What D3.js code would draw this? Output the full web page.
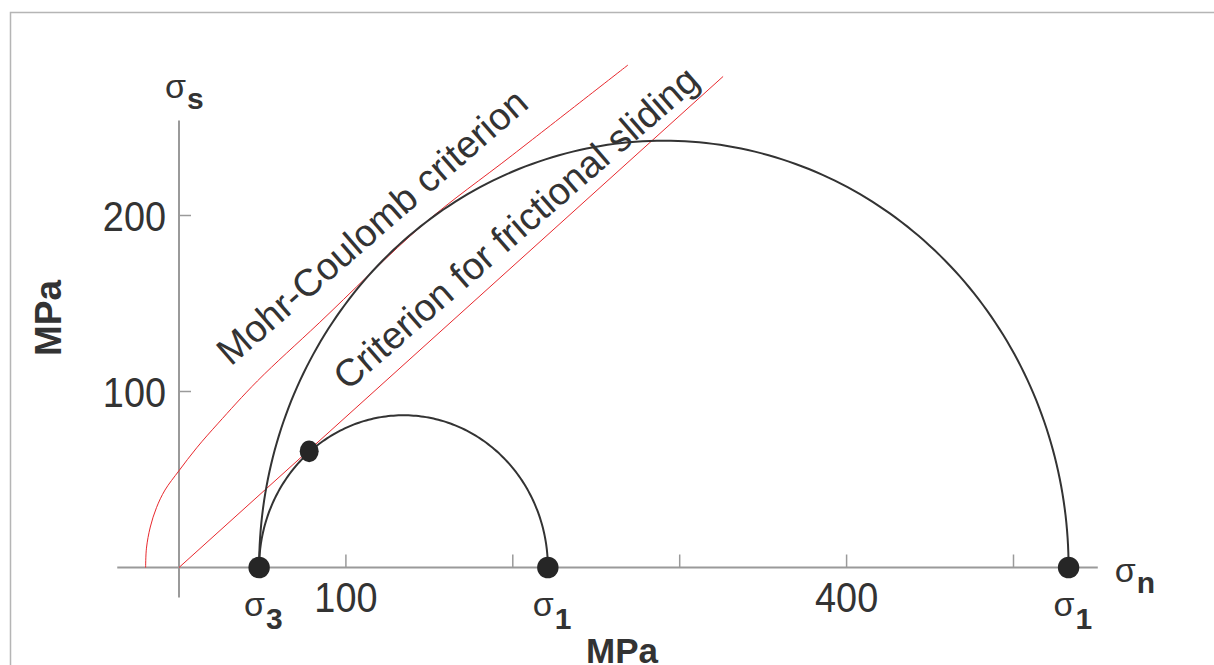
<!DOCTYPE html>
<html>
<head>
<meta charset="utf-8">
<script src="https://cdn.jsdelivr.net/npm/d3@7"></script>
<style>
  html, body { margin: 0; padding: 0; background: #fff; }
  svg { display: block; }
  text { font-family: "Liberation Sans", Arial, Helvetica, sans-serif; fill: #333; }
</style>
</head>
<body>
<svg id="chart" width="1214" height="665"></svg>
<script>
// Mohr circles (MPa): [sigma3, sigma1]
const mohrCircles = [[48, 221], [48, 533]];
// principal stress markers on the normal-stress axis
const principalStresses = [48, 221, 533];
const principalLabels = [
  { value: 48, sub: "3" },
  { value: 221, sub: "1" },
  { value: 533, sub: "1" }
];
// point where the small circle touches the frictional sliding line
const contactPoint = [78, 66];
// frictional sliding criterion (sigma_n, sigma_s)
const frictionLine = [[0, 0], [326, 279]];
// Mohr-Coulomb failure envelope (sigma_n, sigma_s)
const mohrCoulomb = [
  [-20, 0], [-19.5, 11], [-17.2, 23], [-13.5, 34], [-8.4, 44], [0, 55],
  [10.6, 68], [23.5, 82], [47, 106], [84, 139], [146.7, 195.2],
  [200, 234.5], [269, 285.5]
];
const xTickValues = [100, 200, 300, 400, 500];
const xTickLabels = ["100", "", "", "400", ""];
const yTickValues = [100, 200];
const yTickLabels = ["100", "200"];

const svg = d3.select("#chart");

// frame
svg.append("path")
  .attr("d", "M10.5,700 V12.5 H1300")
  .attr("fill", "none").attr("stroke", "#b5b5b5").attr("stroke-width", 1.5);

const x = d3.scaleLinear().domain([0, 500]).range([179, 1013.5]);
const y = d3.scaleLinear().domain([0, 200]).range([567.5, 215.5]);

const axisColor = "#9a9a9a";

// normal stress axis
svg.append("line")
  .attr("x1", x(-37)).attr("x2", x(550.5))
  .attr("y1", y(0)).attr("y2", y(0))
  .attr("stroke", axisColor).attr("stroke-width", 2);
// shear stress axis
svg.append("line")
  .attr("x1", x(0)).attr("x2", x(0))
  .attr("y1", y(-17)).attr("y2", y(254))
  .attr("stroke", axisColor).attr("stroke-width", 2);

// ticks
svg.selectAll(".xtick").data(xTickValues).join("line")
  .attr("class", "xtick")
  .attr("x1", d => x(d)).attr("x2", d => x(d))
  .attr("y1", y(0)).attr("y2", y(0) - 13)
  .attr("stroke", axisColor).attr("stroke-width", 1.5);
svg.selectAll(".ytick").data(yTickValues).join("line")
  .attr("class", "ytick")
  .attr("x1", x(0)).attr("x2", x(0) + 12)
  .attr("y1", d => y(d)).attr("y2", d => y(d))
  .attr("stroke", axisColor).attr("stroke-width", 1.5);

// tick labels: slightly condensed numerals
const squeeze = 0.88;
svg.selectAll(".xlab").data(xTickValues).join("text")
  .attr("class", "xlab")
  .attr("transform", d => `translate(${x(d)},${y(0) + 44}) scale(${squeeze},1)`)
  .attr("text-anchor", "middle").attr("font-size", 43)
  .text((d, i) => xTickLabels[i]);
svg.selectAll(".ylab").data(yTickValues).join("text")
  .attr("class", "ylab")
  .attr("transform", d => `translate(${x(0) - 13},${y(d) + 15}) scale(${squeeze},1)`)
  .attr("text-anchor", "end").attr("font-size", 43)
  .text((d, i) => yTickLabels[i]);

// axis titles
svg.append("text")
  .attr("x", 622).attr("y", 663)
  .attr("text-anchor", "middle").attr("font-size", 35).attr("font-weight", "bold")
  .text("MPa");
svg.append("text")
  .attr("transform", "translate(61,318) rotate(-90)")
  .attr("text-anchor", "middle").attr("font-size", 37).attr("font-weight", "bold")
  .text("MPa");

function sigmaLabel(px, py, sub, subDy) {
  const t = svg.append("text").attr("x", px).attr("y", py).attr("font-size", 34);
  t.append("tspan").text("σ");
  t.append("tspan").attr("dy", subDy).attr("dx", 1)
    .attr("font-size", 30).attr("font-weight", "bold").text(sub);
  return t;
}
sigmaLabel(x(0) - 14, y(254) - 22, "s", 11);
sigmaLabel(x(550.5) + 17, y(0) + 14, "n", 11);

principalLabels.forEach(d => {
  sigmaLabel(x(d.value) - 15, y(0) + 48, d.sub, 13);
});

// red criteria
const envelope = d3.line().x(d => x(d[0])).y(d => y(d[1]))
  .curve(d3.curveCatmullRom.alpha(0.5));
svg.append("path")
  .attr("d", envelope(mohrCoulomb))
  .attr("fill", "none").attr("stroke", "#e8282d").attr("stroke-width", 1);
svg.append("path")
  .attr("d", d3.line().x(d => x(d[0])).y(d => y(d[1]))(frictionLine))
  .attr("fill", "none").attr("stroke", "#e8282d").attr("stroke-width", 1);

// Mohr semicircles drawn in data space
mohrCircles.forEach(([s3, s1]) => {
  const c = (s1 + s3) / 2, r = (s1 - s3) / 2;
  const pts = d3.range(0, 181).map(a => {
    const t = a * Math.PI / 180;
    return [c - r * Math.cos(t), r * Math.sin(t)];
  });
  svg.append("path")
    .attr("d", d3.line().x(d => x(d[0])).y(d => y(d[1]))(pts))
    .attr("fill", "none").attr("stroke", "#333").attr("stroke-width", 2);
});

// markers
svg.selectAll(".pdot").data(principalStresses).join("ellipse")
  .attr("class", "pdot")
  .attr("cx", d => x(d)).attr("cy", y(0))
  .attr("rx", 10.7).attr("ry", 10.8).attr("fill", "#262626");
svg.append("ellipse")
  .attr("cx", x(contactPoint[0])).attr("cy", y(contactPoint[1]))
  .attr("rx", 9.5).attr("ry", 10.8).attr("fill", "#262626");

// criterion labels
const ang = -41;
svg.append("text")
  .attr("transform", `translate(${x(31)},${y(114)}) rotate(${ang})`)
  .attr("font-size", 38).text("Mohr-Coulomb criterion");
svg.append("text")
  .attr("transform", `translate(${x(101)},${y(100)}) rotate(${ang})`)
  .attr("font-size", 38).text("Criterion for frictional sliding");
</script>
</body>
</html>
